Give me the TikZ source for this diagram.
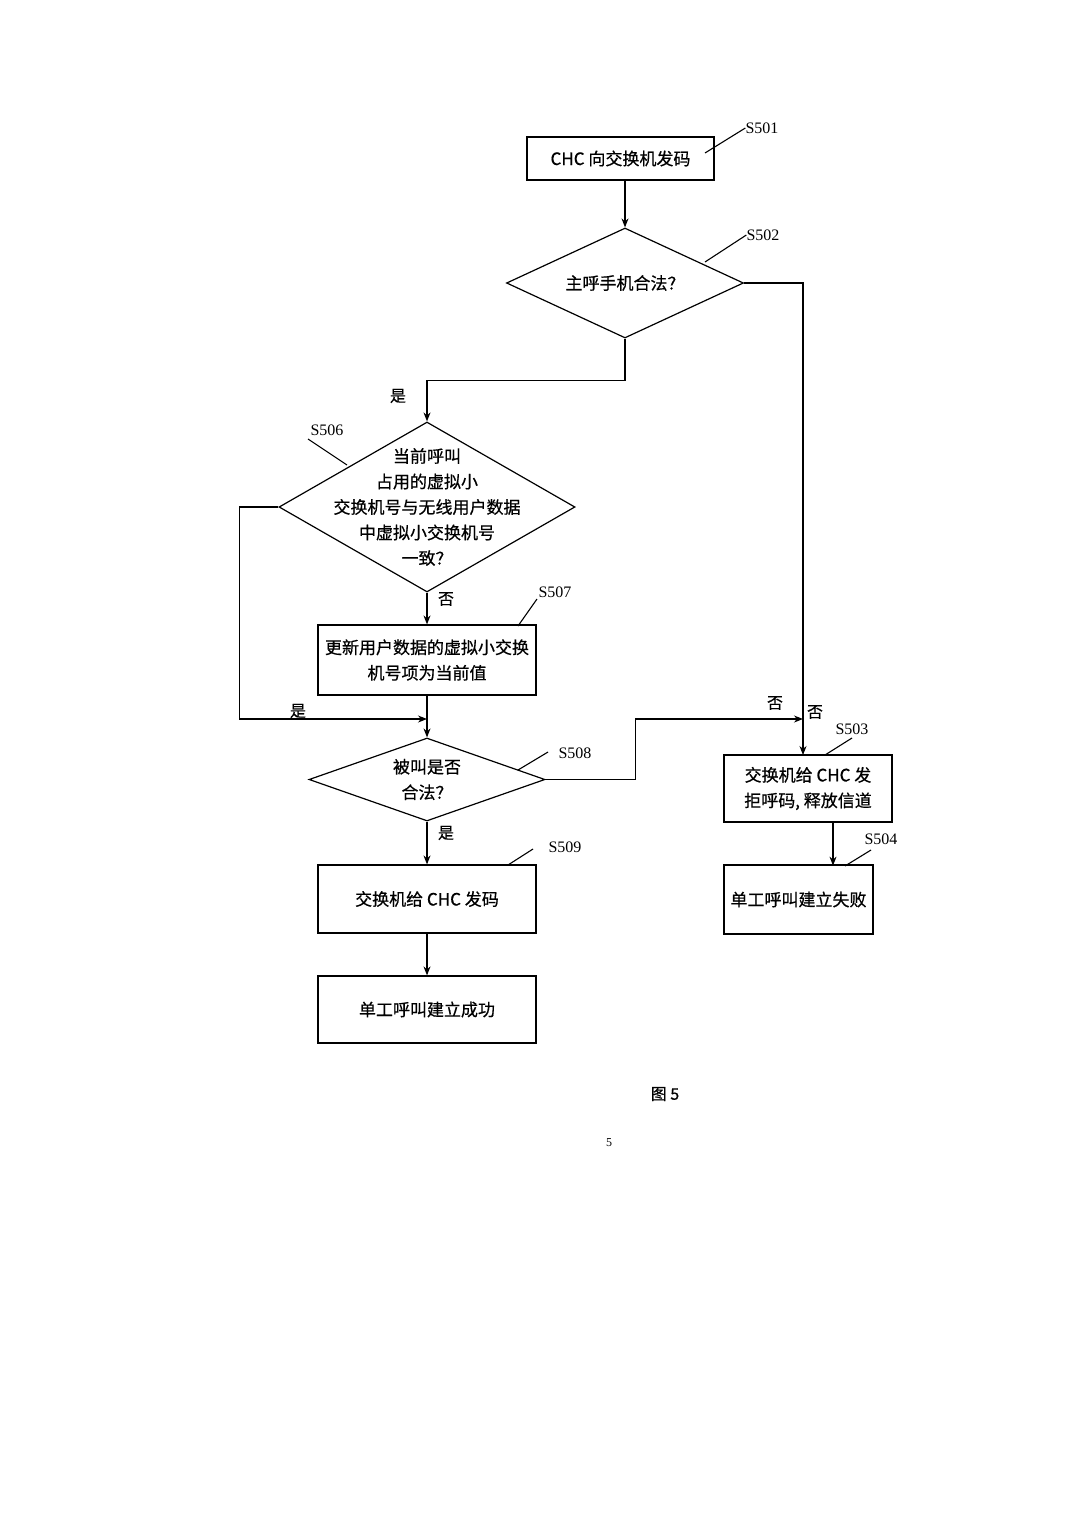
\documentclass[tikz,border=0pt]{standalone}
\usepackage{fontspec}
\setmainfont{Liberation Serif}
\newfontfamily\cjk[FakeBold=0.6]{Noto Sans CJK SC}
\usetikzlibrary{shapes.geometric,arrows.meta}
\begin{document}
\begin{tikzpicture}[x=1pt,y=-1pt,
  box/.style={draw,line width=1.2pt,rectangle,inner sep=0pt,align=center,font=\cjk\fontsize{17}{25.5}\selectfont},
  dia/.style={draw,line width=1.2pt,diamond,inner sep=0pt},
  txt/.style={align=center,inner sep=0pt,font=\cjk\fontsize{17}{25.5}\selectfont},
  yn/.style={inner sep=0pt,font=\cjk\fontsize{16}{16}\selectfont},
  lab/.style={inner sep=0pt,font=\fontsize{16}{16}\selectfont},
  lead/.style={line width=1.1pt},
  arr/.style={line width=1.2pt,-{Stealth[length=9pt,width=7pt]}}]
\useasboundingbox[fill=white] (0,0) rectangle (1080,1528);

% boxes
\node[box,minimum width=187pt,minimum height=43pt] (b501) at (620.5,158.5) {CHC 向交换机发码};
\node[dia,minimum width=237pt,minimum height=110pt] (d502) at (625,283) {};
\node[txt] (t502) at (d502.center) {主呼手机合法？};
\node[dia,minimum width=296pt,minimum height=170pt] (d506) at (427,507) {};
\node[txt] (t506) at (d506.center) {当前呼叫\\占用的虚拟小\\交换机号与无线用户数据\\中虚拟小交换机号\\一致？};
\node[box,minimum width=218pt,minimum height=70pt] (b507) at (427,660) {更新用户数据的虚拟小交换\\机号项为当前值};
\node[dia,minimum width=236pt,minimum height=83pt] (d508) at (427,779.5) {};
\node[txt] (t508) at (d508.center) {被叫是否\\合法？};
\node[box,minimum width=218pt,minimum height=68pt] (b509) at (427,899) {交换机给 CHC 发码};
\node[box,minimum width=218pt,minimum height=67pt] (b510) at (427,1009.5) {单工呼叫建立成功};
\node[box,minimum width=168pt,minimum height=67pt] (b503) at (808,788.5) {交换机给 CHC 发\\拒呼码, 释放信道};
\node[box,minimum width=149pt,minimum height=69pt] (b504) at (798.5,899.5) {单工呼叫建立失败};

% junction coordinates
\coordinate (j1) at (427,719);
\coordinate (c503) at (803,755);
\coordinate (j2) at (803,719);

% connectors
\draw[arr] (d502.north |- b501.south) -- (d502.north);
\draw[arr] (d502.east) -| (c503);
\draw[arr] (d502.south) -- ++(0,42) -| (d506.north);
\draw[arr] (d506.south) -- (b507.north);
\draw[arr] (d506.west) -- ++(-39,0) |- (j1);
\draw[arr] (b507.south) -- (d508.north);
\draw[arr] (d508.east) -- ++(90,0) |- (j2);
\draw[arr] (d508.south) -- (b509.north);
\draw[arr] (b509.south) -- (b510.north);
\draw[arr] ([xshift=25pt]b503.south) -- ++(0,43);

% yes / no labels
\node[yn] (y1) at (398,396) {是};
\node[yn] (n1) at (446,599) {否};
\node[yn] (y2) at (298,711) {是};
\node[yn] (n2) at (775,703) {否};
\node[yn] (n3) at (815,712) {否};
\node[yn] (y3) at (446,833) {是};

% step labels and leaders
\node[lab] (l501) at (762,128) {S501};
\coordinate (p501) at (705,153);
\draw[lead] (p501) -- (l501.west);
\node[lab] (l502) at (763,235) {S502};
\coordinate (p502) at (705,262);
\draw[lead] (p502) -- (l502.west);
\node[lab] (l506) at (327,430) {S506};
\coordinate (p506) at (347,465);
\draw[lead] (p506) -- (308,439);
\node[lab] (l507) at (555,592) {S507};
\coordinate (p507) at (518,626);
\draw[lead] (p507) -- (537,599);
\node[lab] (l508) at (575,753) {S508};
\coordinate (p508) at (518,770);
\draw[lead] (p508) -- (548,752);
\node[lab] (l509) at (565,847) {S509};
\coordinate (p509) at (508,865);
\draw[lead] (p509) -- (533,849);
\node[lab] (l503) at (852,729) {S503};
\coordinate (p503) at (825,755);
\draw[lead] (p503) -- (852,738);
\node[lab] (l504) at (881,839) {S504};
\coordinate (p504) at (845,866);
\draw[lead] (p504) -- (871,850);

% caption
\node[inner sep=0pt,font=\cjk\fontsize{16}{16}\selectfont] (fig) at (665,1094) {图 5};
\node[inner sep=0pt,font=\fontsize{12}{12}\selectfont] (pg) at (609,1143) {5};
\end{tikzpicture}
\end{document}
